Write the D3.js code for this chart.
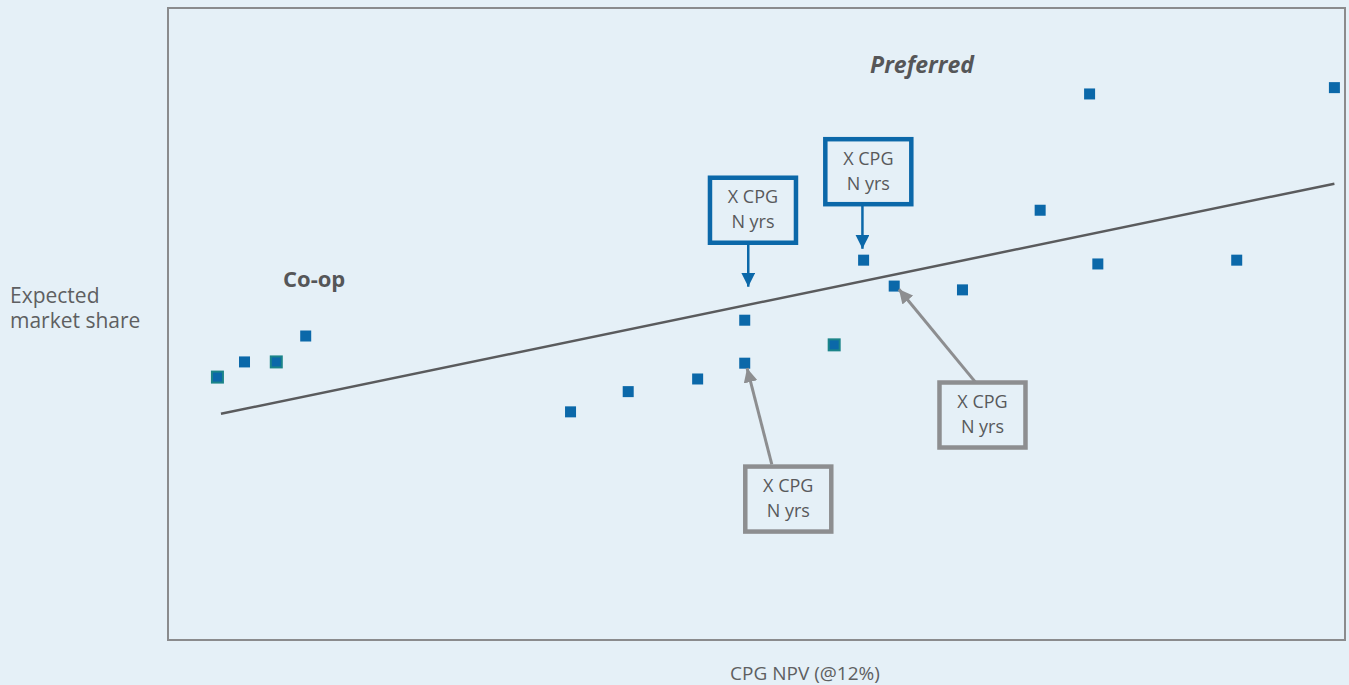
<!DOCTYPE html>
<html>
<head>
<meta charset="utf-8">
<script src="https://cdn.jsdelivr.net/npm/d3@7"></script>
<style>
    body { margin: 0; background: #e5f0f7; }
    svg { display: block; font-family: 'Open Sans', sans-serif; }
</style>
</head>
<body>
<div id="chart"></div>
<script>
// data (x = npv, y = market share, both on a 0-100 scale)
var npv = [4.2, 6.5, 9.2, 11.7, 34.2, 39.1, 45.0, 49.0, 49.0, 56.6, 59.1, 61.7, 67.5, 74.1, 78.3, 79.0, 90.8, 99.1]
var share = [41.6, 44.0, 44.0, 48.1, 36.1, 39.3, 41.3, 43.8, 50.6, 46.7, 60.1, 56.0, 55.4, 68.0, 86.4, 59.5, 60.1, 87.4]
var outlined = [1, 0, 1, 0, 0, 0, 0, 0, 0, 1, 0, 0, 0, 0, 0, 0, 0, 0]

// trend line end points
var trendX = [4.5, 99.1]
var trendY = [35.8, 72.2]

// callouts: box centre, arrow start / tip
var calloutText = ['X CPG', 'N yrs']
var calloutKind = ['blue', 'blue', 'grey', 'grey']
var calloutBoxX = [49.7, 59.5, 52.7, 69.2]
var calloutBoxY = [68.0, 74.1, 22.3, 35.6]
var calloutFromX = [49.3, 59.0, 51.3, 68.6]
var calloutFromY = [62.7, 68.7, 27.8, 40.8]
var calloutToX = [49.3, 59.0, 49.2, 62.1]
var calloutToY = [55.9, 61.9, 43.0, 55.5]

var width = 1349
var height = 685
var margin = { top: 8, right: 4, bottom: 45, left: 168 }

var x = d3.scaleLinear()
    .domain([0, 100])
    .range([margin.left, width - margin.right])
var y = d3.scaleLinear()
    .domain([0, 100])
    .range([height - margin.bottom, margin.top])

var colors = { blue: '#0b68a9', grey: '#8d8e90' }

var svg = d3.select('#chart')
    .append('svg')
    .attr('width', width)
    .attr('height', height)

// arrow heads
var defs = svg.append('defs')
Object.keys(colors).forEach(function (k) {
    defs.append('marker')
        .attr('id', 'head-' + k)
        .attr('viewBox', '0 0 10 10')
        .attr('refX', 10)
        .attr('refY', 5)
        .attr('markerWidth', 14)
        .attr('markerHeight', 14)
        .attr('markerUnits', 'userSpaceOnUse')
        .attr('orient', 'auto')
        .append('path')
        .attr('d', 'M0,0 L10,5 L0,10 z')
        .style('fill', colors[k])
})

// plot frame
svg.append('rect')
    .attr('x', x(0))
    .attr('y', y(100))
    .attr('width', x(100) - x(0))
    .attr('height', y(0) - y(100))
    .style('fill', '#e5f0f7')
    .style('stroke', '#8a8b8d')
    .style('stroke-width', 2)

// axis titles
svg.append('text')
    .attr('x', 10)
    .attr('y', 303)
    .style('fill', '#5e5f61')
    .style('font-size', '21px')
    .text('Expected')
svg.append('text')
    .attr('x', 10)
    .attr('y', 328)
    .style('fill', '#5e5f61')
    .style('font-size', '21px')
    .text('market share')
svg.append('text')
    .attr('x', 805)
    .attr('y', 680)
    .style('text-anchor', 'middle')
    .style('fill', '#5e5f61')
    .style('font-size', '19px')
    .text('CPG NPV (@12%)')

// region labels
svg.append('text')
    .attr('x', 922)
    .attr('y', 73)
    .style('text-anchor', 'middle')
    .style('fill', '#555658')
    .style('font-size', '23px')
    .style('font-weight', 'bold')
    .style('font-style', 'italic')
    .text('Preferred')
svg.append('text')
    .attr('x', 283)
    .attr('y', 287)
    .style('fill', '#555658')
    .style('font-size', '22px')
    .style('font-weight', 'bold')
    .text('Co-op')

// trend line
svg.append('line')
    .attr('x1', x(trendX[0]))
    .attr('y1', y(trendY[0]))
    .attr('x2', x(trendX[1]))
    .attr('y2', y(trendY[1]))
    .style('stroke', '#5a5b5d')
    .style('stroke-width', 2.5)

// points
svg.selectAll('rect.pt')
    .data(npv)
    .enter()
    .append('rect')
    .attr('class', 'pt')
    .attr('x', function (d) { return x(d) - 5.5 })
    .attr('y', function (d, i) { return y(share[i]) - 5.5 })
    .attr('width', 11)
    .attr('height', 11)
    .style('fill', '#0b68a9')
    .style('stroke', function (d, i) { return outlined[i] ? '#1b8489' : 'none' })
    .style('stroke-width', 2)

// callouts
var bw = 86, bh = 65
var callouts = svg.selectAll('g.callout')
    .data(calloutKind)
    .enter()
    .append('g')
    .attr('class', 'callout')

callouts.append('line')
    .attr('x1', function (d, i) { return x(calloutFromX[i]) })
    .attr('y1', function (d, i) { return y(calloutFromY[i]) })
    .attr('x2', function (d, i) { return x(calloutToX[i]) })
    .attr('y2', function (d, i) { return y(calloutToY[i]) })
    .style('stroke', function (d) { return colors[d] })
    .style('stroke-width', function (d) { return d === 'blue' ? 2.5 : 3 })
    .attr('marker-end', function (d) { return 'url(#head-' + d + ')' })

callouts.append('rect')
    .attr('x', function (d, i) { return x(calloutBoxX[i]) - bw / 2 })
    .attr('y', function (d, i) { return y(calloutBoxY[i]) - bh / 2 })
    .attr('width', bw)
    .attr('height', bh)
    .style('fill', '#e5f0f7')
    .style('stroke', function (d) { return colors[d] })
    .style('stroke-width', 4.5)

calloutText.forEach(function (t, j) {
    callouts.append('text')
        .attr('x', function (d, i) { return x(calloutBoxX[i]) })
        .attr('y', function (d, i) { return y(calloutBoxY[i]) - 7 + j * 25 })
        .style('text-anchor', 'middle')
        .style('fill', '#58595b')
        .style('font-size', '18px')
        .text(t)
})
</script>
</body>
</html>
